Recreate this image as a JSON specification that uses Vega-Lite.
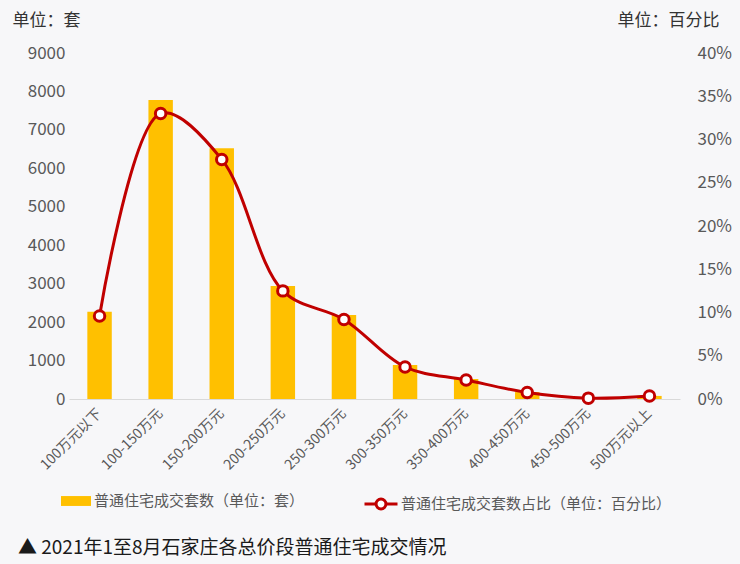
{
  "$schema": "https://vega.github.io/schema/vega-lite/v6.json",
  "width": 611,
  "height": 346,
  "autosize": {"type": "none"},
  "padding": {"left": 69, "top": 53, "right": 60, "bottom": 165},
  "background": "#f7f7f9",
  "config": {
    "font": "Noto Sans CJK SC",
    "view": {"stroke": null},
    "axis": {"labelFont": "Noto Sans CJK SC", "titleFont": "Noto Sans CJK SC"},
    "legend": {"labelFont": "Noto Sans CJK SC"}
  },
  "title": {
    "text": "▲ 2021年1至8月石家庄各总价段普通住宅成交情况",
    "orient": "bottom",
    "anchor": "start",
    "frame": "group",
    "dx": -51,
    "offset": 40,
    "dy": -16,
    "fontSize": 19,
    "fontWeight": "normal",
    "color": "#1a1a1a",
    "font": "Noto Sans CJK SC"
  },
  "data": {
    "values": [
      {"range": "100万元以下", "count": 2270, "pct": 0.096, "s1": "普通住宅成交套数（单位：套）", "s2": "普通住宅成交套数占比（单位：百分比）"},
      {"range": "100-150万元", "count": 7780, "pct": 0.330, "s1": "普通住宅成交套数（单位：套）", "s2": "普通住宅成交套数占比（单位：百分比）"},
      {"range": "150-200万元", "count": 6520, "pct": 0.277, "s1": "普通住宅成交套数（单位：套）", "s2": "普通住宅成交套数占比（单位：百分比）"},
      {"range": "200-250万元", "count": 2940, "pct": 0.125, "s1": "普通住宅成交套数（单位：套）", "s2": "普通住宅成交套数占比（单位：百分比）"},
      {"range": "250-300万元", "count": 2185, "pct": 0.092, "s1": "普通住宅成交套数（单位：套）", "s2": "普通住宅成交套数占比（单位：百分比）"},
      {"range": "300-350万元", "count": 885, "pct": 0.037, "s1": "普通住宅成交套数（单位：套）", "s2": "普通住宅成交套数占比（单位：百分比）"},
      {"range": "350-400万元", "count": 520, "pct": 0.022, "s1": "普通住宅成交套数（单位：套）", "s2": "普通住宅成交套数占比（单位：百分比）"},
      {"range": "400-450万元", "count": 180, "pct": 0.0075, "s1": "普通住宅成交套数（单位：套）", "s2": "普通住宅成交套数占比（单位：百分比）"},
      {"range": "450-500万元", "count": 25, "pct": 0.001, "s1": "普通住宅成交套数（单位：套）", "s2": "普通住宅成交套数占比（单位：百分比）"},
      {"range": "500万元以上", "count": 80, "pct": 0.0035, "s1": "普通住宅成交套数（单位：套）", "s2": "普通住宅成交套数占比（单位：百分比）"}
    ]
  },
  "encoding": {
    "x": {
      "field": "range",
      "type": "nominal",
      "sort": null,
      "scale": {"paddingInner": 0.6, "paddingOuter": 0.3},
      "axis": {
        "title": null,
        "labelAngle": -45,
        "labelAlign": "right",
        "labelBaseline": "middle",
        "labelPadding": 12,
        "labelFontSize": 14,
        "labelColor": "#595959",
        "ticks": false,
        "domain": true,
        "domainColor": "#d9d9d9",
        "domainWidth": 1,
        "grid": false
      }
    }
  },
  "layer": [
    {
      "mark": {"type": "bar"},
      "encoding": {
        "y": {
          "field": "count",
          "type": "quantitative",
          "scale": {"domain": [0, 9000]},
          "axis": {
            "title": "单位：套",
            "titleAngle": 0,
            "titleAlign": "left",
            "titleBaseline": "middle",
            "titleX": -57,
            "titleY": -33,
            "titleFontSize": 17,
            "titleFontWeight": "normal",
            "titleColor": "#333333",
            "values": [0, 1000, 2000, 3000, 4000, 5000, 6000, 7000, 8000, 9000],
            "format": "d",
            "labelFontSize": 17,
            "labelColor": "#595959",
            "labelPadding": 4,
            "ticks": false,
            "domain": false,
            "grid": false
          }
        },
        "fill": {
          "field": "s1",
          "type": "nominal",
          "scale": {"range": ["#FFC000"]},
          "legend": {
            "title": null,
            "orient": "none",
            "legendX": -8,
            "legendY": 433,
            "symbolType": "M-1,-0.33H1V0.33H-1Z",
            "symbolSize": 900,
            "symbolStrokeWidth": 0,
            "labelFontSize": 15,
            "labelLimit": 0,
            "labelColor": "#595959",
            "labelOffset": 3
          }
        }
      }
    },
    {
      "mark": {"type": "line", "interpolate": "catmull-rom", "strokeWidth": 3},
      "encoding": {
        "y": {
          "field": "pct",
          "type": "quantitative",
          "scale": {"domain": [0, 0.4]},
          "axis": {
            "orient": "right",
            "title": "单位：百分比",
            "titleAngle": 0,
            "titleAlign": "left",
            "titleBaseline": "middle",
            "titleX": -63,
            "titleY": -33,
            "titleFontSize": 17,
            "titleFontWeight": "normal",
            "titleColor": "#333333",
            "values": [0, 0.05, 0.1, 0.15, 0.2, 0.25, 0.3, 0.35, 0.4],
            "format": ".0%",
            "labelFontSize": 17,
            "labelColor": "#595959",
            "labelPadding": 17,
            "ticks": false,
            "domain": false,
            "grid": false
          }
        },
        "stroke": {
          "field": "s2",
          "type": "nominal",
          "scale": {"range": ["#C00000"]},
          "legend": {
            "title": null,
            "orient": "none",
            "legendX": 294,
            "legendY": 433,
            "symbolType": "M-1,0H-0.3M0.3,0H1M0.3,0A0.3,0.3,0,1,1,-0.3,0A0.3,0.3,0,1,1,0.3,0Z",
            "symbolSize": 1089,
            "symbolStrokeWidth": 3,
            "symbolFillColor": "white",
            "labelFontSize": 15,
            "labelLimit": 0,
            "labelColor": "#595959",
            "labelOffset": 2
          }
        }
      }
    },
    {
      "mark": {"type": "point", "filled": true, "fill": "white", "stroke": "#C00000", "strokeWidth": 3, "size": 110, "opacity": 1},
      "encoding": {
        "y": {"field": "pct", "type": "quantitative", "scale": {"domain": [0, 0.4]}, "axis": null}
      }
    }
  ],
  "resolve": {"scale": {"y": "independent", "fill": "independent", "stroke": "independent"}}
}
